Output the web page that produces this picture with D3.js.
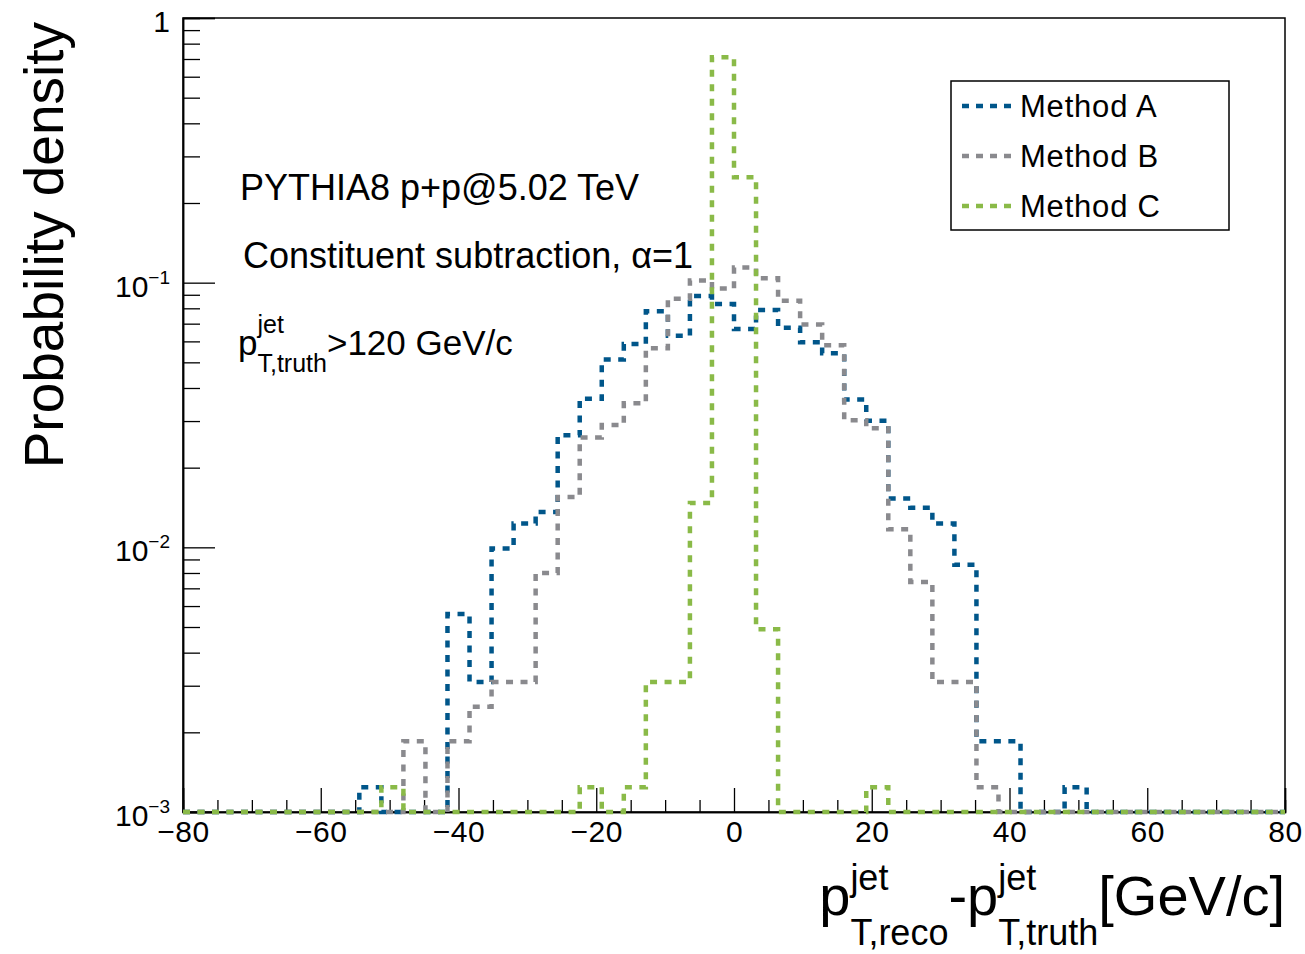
<!DOCTYPE html>
<html>
<head>
<meta charset="utf-8">
<script src="https://cdn.jsdelivr.net/npm/d3@7"></script>
<style>
  body { margin: 0; background: #fff; }
  svg { font-family: "Liberation Sans", Arial, Helvetica, sans-serif; }
</style>
</head>
<body>
<svg width="1305" height="954"></svg>
<script>
// histogram binning: 50 bins of 3.2 GeV/c from -80 to 80
const binStart = -80
const binWidth = 3.2
const binCount = 50

// probability density per bin (0 = empty bin)
const methodA = [0, 0, 0, 0, 0, 0, 0, 0, 0.00124, 0,
  0, 0, 0.0056, 0.0031, 0.0099, 0.0123, 0.0136, 0.0265, 0.0364, 0.0512,
  0.0587, 0.078, 0.063, 0.089, 0.083, 0.0668, 0.0788, 0.0675, 0.0595, 0.0541,
  0.0362, 0.0301, 0.0153, 0.0141, 0.0123, 0.0086, 0.00185, 0.00185, 0, 0,
  0.00124, 0, 0, 0, 0, 0, 0, 0, 0, 0]
const methodB = [0, 0, 0, 0, 0, 0, 0, 0, 0, 0,
  0.00185, 0, 0.00185, 0.0025, 0.0031, 0.0031, 0.008, 0.0155, 0.026, 0.029,
  0.035, 0.0565, 0.087, 0.102, 0.095, 0.114, 0.104, 0.0855, 0.0695, 0.058,
  0.0302, 0.0282, 0.0117, 0.0074, 0.0031, 0.0031, 0.00124, 0, 0, 0,
  0, 0, 0, 0, 0, 0, 0, 0, 0, 0]
const methodC = [0, 0, 0, 0, 0, 0, 0, 0, 0, 0.00124,
  0, 0, 0, 0, 0, 0, 0, 0, 0.00124, 0,
  0.00124, 0.0031, 0.0031, 0.0147, 0.71, 0.25, 0.0049, 0, 0, 0,
  0, 0.00124, 0, 0, 0, 0, 0, 0, 0, 0,
  0, 0, 0, 0, 0, 0, 0, 0, 0, 0]

const seriesNames = ['Method A', 'Method B', 'Method C']
const seriesColors = ['#00568a', '#8a8a8e', '#8aba48']
const seriesValues = [methodA, methodB, methodC]

const xTicks = [-80, -60, -40, -20, 0, 20, 40, 60, 80]
const yTicks = [1e-3, 1e-2, 1e-1, 1]
const yTickLabels = [['10', '\u22123'], ['10', '\u22122'], ['10', '\u22121'], ['1', '']]

const svg = d3.select('svg')
const xs = d3.scaleLinear().domain([-80, 80]).range([183, 1285])
const ys = d3.scaleLog().domain([1e-3, 1]).range([812, 18])
const yMin = ys.domain()[0]

// frame
svg.append('rect')
  .attr('x', xs(-80)).attr('y', ys(1))
  .attr('width', xs(80) - xs(-80)).attr('height', ys(1e-3) - ys(1))
  .attr('fill', 'none').attr('stroke', '#000').attr('stroke-width', 1.5)

// x axis ticks
const xMinor = d3.range(-80, 80.1, 5).filter(function(v) {return v % 20 !== 0})
svg.append('g').attr('transform', 'translate(0,' + ys(1e-3) + ')')
  .call(d3.axisBottom(xs).tickValues(xMinor).tickSize(-12).tickFormat(''))
svg.append('g').attr('id', 'xaxis').attr('transform', 'translate(0,' + ys(1e-3) + ')')
  .call(d3.axisBottom(xs).tickValues(xTicks).tickSize(-24).tickPadding(9)
    .tickFormat(function(d) {return d < 0 ? '\u2212' + Math.abs(d) : d}))
svg.selectAll('#xaxis text').attr('font-size', 30).attr('font-family', null)
  .attr('letter-spacing', 0.5)

// y axis ticks
const yMinor = []
yTicks.slice(0, 3).forEach(function(d) {
  for (let k = 2; k < 10; k++) yMinor.push(d * k)
})
svg.append('g').attr('transform', 'translate(' + xs(-80) + ',0)')
  .call(d3.axisLeft(ys).tickValues(yMinor).tickSize(-17).tickFormat(''))
svg.append('g').attr('transform', 'translate(' + xs(-80) + ',0)')
  .call(d3.axisLeft(ys).tickValues(yTicks).tickSize(-32).tickFormat(''))
svg.selectAll('.domain').attr('stroke-width', 1.5)
svg.selectAll('.tick line').attr('stroke-width', 1.3)

const yLab = svg.append('g').selectAll('text').data(yTicks).enter().append('text')
  .attr('x', xs(-80) - 13)
  .attr('y', function(d) {return ys(d) + 14})
  .attr('text-anchor', 'end')
  .attr('font-size', 30)
yLab.append('tspan').text(function(d, i) {return yTickLabels[i][0]})
yLab.append('tspan').attr('dy', -13).attr('font-size', 19)
  .text(function(d, i) {return yTickLabels[i][1]})

// histograms
function stepPoints(vals) {
  const pts = []
  vals.forEach(function(v, i) {
    const lo = binStart + i * binWidth
    const yy = Math.max(v, yMin)
    pts.push([xs(lo), ys(yy)])
    pts.push([xs(lo + binWidth), ys(yy)])
  })
  return pts
}
const line = d3.line()
svg.append('g').selectAll('path').data(seriesValues).enter().append('path')
  .attr('d', function(d) {return line(stepPoints(d))})
  .attr('fill', 'none')
  .attr('stroke', function(d, i) {return seriesColors[i]})
  .attr('stroke-width', 4.5)
  .attr('stroke-dasharray', '7,7.5')

// legend
const leg = svg.append('g')
leg.append('rect').attr('x', 951).attr('y', 81).attr('width', 278).attr('height', 149)
  .attr('fill', '#fff').attr('stroke', '#000').attr('stroke-width', 1.5)
leg.selectAll('line').data(seriesNames).enter().append('line')
  .attr('x1', 962).attr('x2', 1011)
  .attr('y1', function(d, i) {return 106 + i * 50})
  .attr('y2', function(d, i) {return 106 + i * 50})
  .attr('stroke', function(d, i) {return seriesColors[i]})
  .attr('stroke-width', 4.5)
  .attr('stroke-dasharray', '7,7')
leg.selectAll('text').data(seriesNames).enter().append('text')
  .attr('x', 1020)
  .attr('y', function(d, i) {return 117 + i * 50})
  .attr('font-size', 31)
  .attr('letter-spacing', 0.8)
  .text(function(d) {return d})

// text with stacked super/subscripts
function scripted(parent, x, y, pieces, big, small, up, down) {
  const g = parent.append('g')
  let cx = x
  pieces.forEach(function(p) {
    if (p.base) {
      const t = g.append('text').attr('x', cx).attr('y', y).attr('font-size', big).text(p.base)
      cx += t.node().getComputedTextLength()
    }
    if (p.sup || p.sub) {
      let w = 0
      if (p.sup) {
        const t = g.append('text').attr('x', cx).attr('y', y - up).attr('font-size', small).text(p.sup)
        w = Math.max(w, t.node().getComputedTextLength())
      }
      if (p.sub) {
        const t = g.append('text').attr('x', cx).attr('y', y + down).attr('font-size', small).text(p.sub)
        w = Math.max(w, t.node().getComputedTextLength())
      }
      cx += w
    }
  })
  return {g: g, width: cx - x}
}

svg.append('text').attr('x', 240).attr('y', 200).attr('font-size', 36)
  .text('PYTHIA8 p+p@5.02 TeV')
svg.append('text').attr('x', 243).attr('y', 268).attr('font-size', 36)
  .text('Constituent subtraction, \u03b1=1')
scripted(svg, 238, 355, [{base: 'p', sup: 'jet', sub: 'T,truth'}, {base: '>120 GeV/c'}], 35, 25, 22, 17)

// x title, right aligned to the frame
const xt = scripted(svg, 0, 915,
  [{base: 'p', sup: 'jet', sub: 'T,reco'}, {base: '-p', sup: 'jet', sub: 'T,truth'}, {base: '[GeV/c]'}],
  56, 36, 25, 30)
xt.g.attr('transform', 'translate(' + (xs(80) - xt.width) + ',0)')

// y title
svg.append('text')
  .attr('transform', 'translate(63,22) rotate(-90)')
  .attr('text-anchor', 'end')
  .attr('font-size', 55)
  .text('Probability density')
</script>
</body>
</html>
